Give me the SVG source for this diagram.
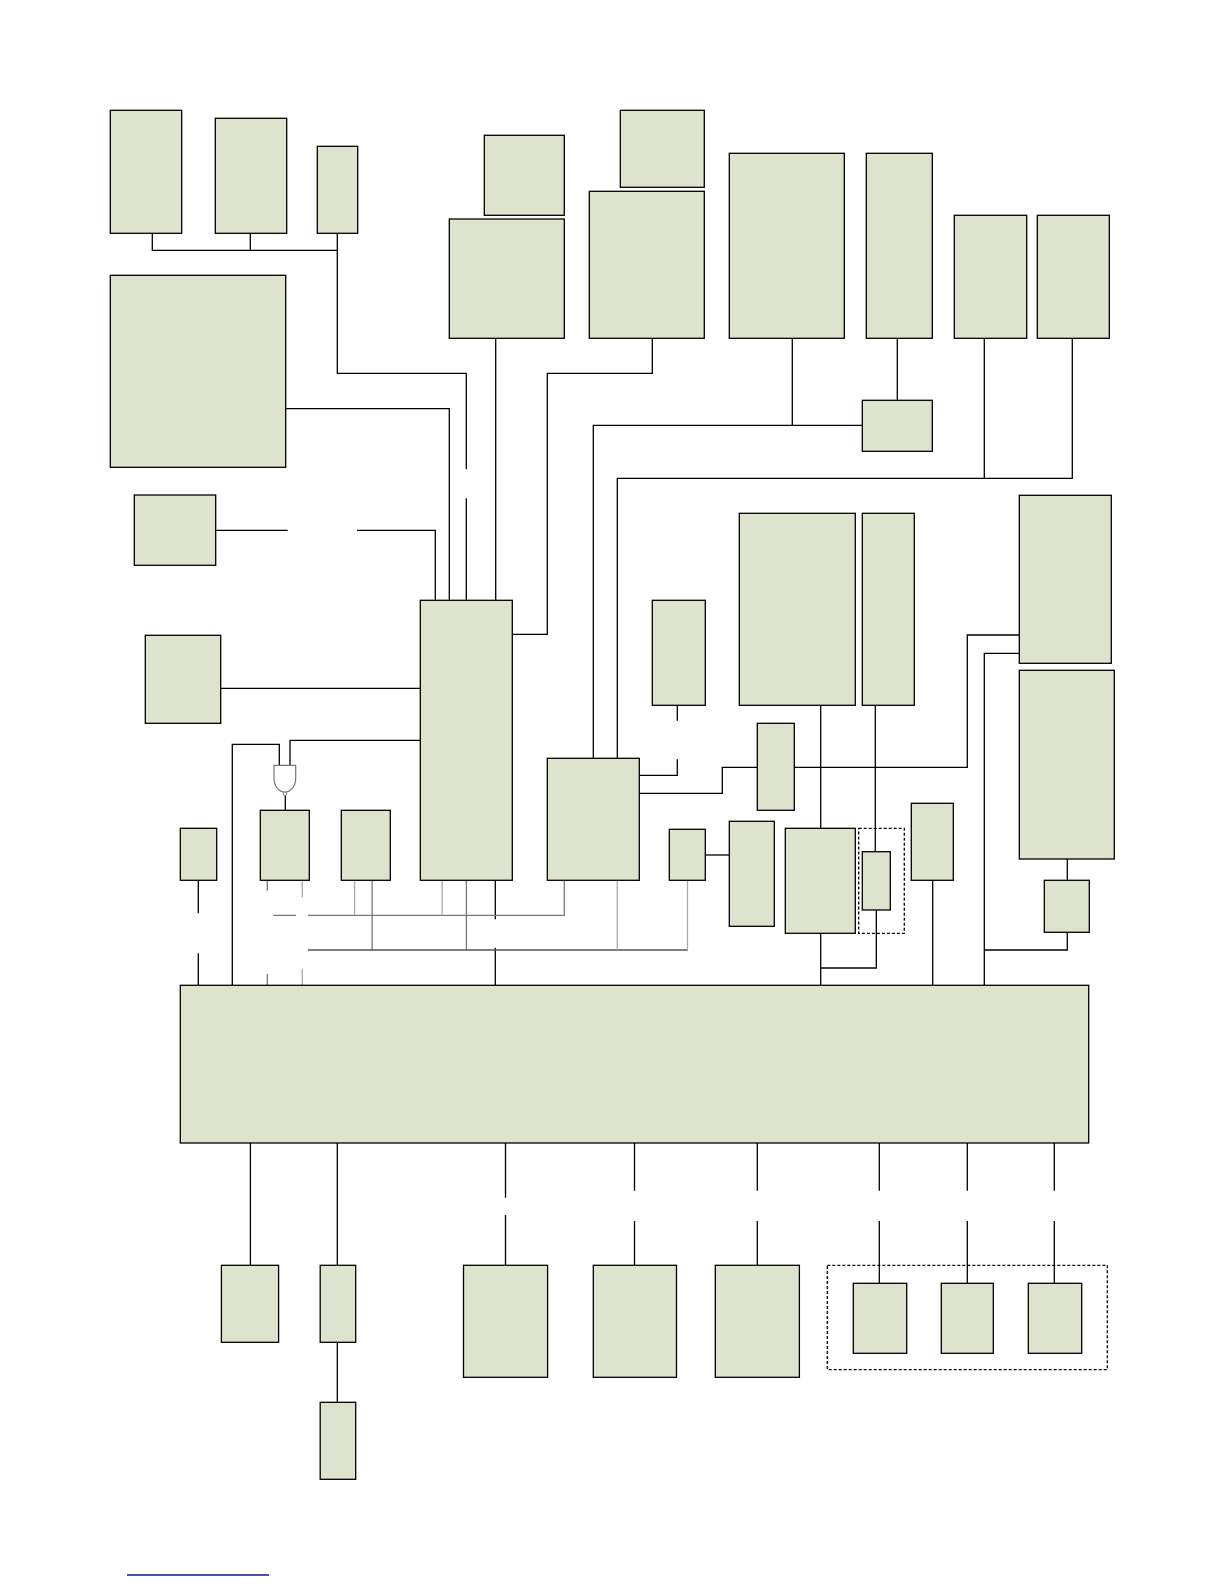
<svg xmlns="http://www.w3.org/2000/svg" width="1224" height="1584" viewBox="0 0 1224 1584">
<style>
.n{fill:#dde3cd;stroke:#000;stroke-width:1.3}
.c{fill:none;stroke:#000;stroke-width:1.3}
.g1{fill:none;stroke:#aaa;stroke-width:1.3}
.g2{fill:none;stroke:#777;stroke-width:1.3}
.g3{fill:none;stroke:#555;stroke-width:1.3}
.d{fill:none;stroke:#000;stroke-width:1.3;stroke-dasharray:3,2}
</style>
<rect width="1224" height="1584" fill="#fff"/>
<g id="connectors">
<path class="c" d="M152.3,233.3V250.3H337.3V233.3M250.3,233.3V250.3M337.3,250.3V373.3H466.3V469.3M466.3,498.3V600.3"/>
<path class="c" d="M285.7,408.7H449.3V600.3"/>
<path class="c" d="M215.7,530.3H287.7M357,530.3H435.3V600.3"/>
<path class="c" d="M495.7,338.3V600.3"/>
<path class="c" d="M652.3,338.3V373.3H547.3V634.3H512.3"/>
<path class="c" d="M792.3,338.3V425.3M593.3,758.3V425.3H862.3"/>
<path class="c" d="M897.3,338.3V400.3"/>
<path class="c" d="M984.3,338.3V478.3M1072.3,338.3V478.3H617.3V758.3"/>
<path class="c" d="M220.7,688.3H420.3"/>
<path class="c" d="M232.3,985.3V744.3H279.3V765.3M420.3,740.3H290V765.3"/>
<path class="c" d="M285.3,796V810.3"/>
<path class="c" d="M198.3,880.3V913.3M198.3,953.3V985.3"/>
<path class="c" d="M495.3,880.3V919.3M495.3,947.7V985.3"/>
<path class="g2" d="M267.3,880.3V890.7M267.3,974V985.3"/>
<path class="g1" d="M302.3,880.3V897.3M302.3,969V985.3"/>
<path class="g2" d="M273.3,915.3H296M308,915.3H564.3V880.3"/>
<path class="g1" d="M354.6,880.3V915.3M442.1,880.3V915.3"/>
<path class="g2" d="M372.1,880.3V950M466.4,880.3V950"/>
<path class="g3" d="M308,950H687.9"/>
<path class="g1" d="M617.3,880.3V950M687.5,880.3V950"/>
<path class="c" d="M677.3,705.3V720.7M677.3,759.3V775.3H639.3"/>
<path class="c" d="M639.3,793.3H722.3V767.3H757.3"/>
<path class="c" d="M794.3,767.3H967.3V635H1019.3"/>
<path class="c" d="M1019.3,653.3H984.3V985.3"/>
<path class="c" d="M1067.3,859V880.3M1067.3,932.3V950H984.3"/>
<path class="c" d="M820.7,705.3V828.3M875.3,705.3V851.7"/>
<path class="c" d="M705.3,855H729.3"/>
<path class="c" d="M820.7,933.3V985.3M876.3,910V968H820.7"/>
<path class="c" d="M932.7,880.3V985.3"/>
<path class="c" d="M250.4,1143V1265.3M337.3,1143V1265.3M337.3,1342.3V1402.3"/>
<path class="c" d="M505.5,1143V1197.7M505.5,1215V1265.3"/>
<path class="c" d="M634.5,1143V1190.7M634.5,1221V1265.3"/>
<path class="c" d="M757.3,1143V1190.7M757.3,1221V1265.3"/>
<path class="c" d="M879.3,1143V1190.7M879.3,1221V1283.3"/>
<path class="c" d="M967.3,1143V1190.7M967.3,1221V1283.3"/>
<path class="c" d="M1054.3,1143V1190.7M1054.3,1221V1283.3"/>
</g>
<g id="gate">
<path d="M274,765.3V778.5A10.85,13.5 0 0 0 295.7,778.5V765.3Z" fill="#fff" stroke="#777" stroke-width="1.2"/>
<circle cx="284.9" cy="793.8" r="1.8" fill="#fff" stroke="#777" stroke-width="1"/>
</g>
<g id="nA"><rect class="n" x="110.3" y="110.3" width="71.4" height="123"/></g>
<g id="nB"><rect class="n" x="215.3" y="118.3" width="71.4" height="115"/></g>
<g id="nC"><rect class="n" x="317.3" y="146.3" width="40.4" height="87"/></g>
<g id="nD"><rect class="n" x="110.3" y="275.3" width="175.4" height="192"/></g>
<g id="nE"><rect class="n" x="484.3" y="135.3" width="80" height="80"/></g>
<g id="nF"><rect class="n" x="449.3" y="219" width="115" height="119.3"/></g>
<g id="nG"><rect class="n" x="620.3" y="110.3" width="84" height="77"/></g>
<g id="nH"><rect class="n" x="589.3" y="191.3" width="115" height="147"/></g>
<g id="nI"><rect class="n" x="729.3" y="153.3" width="115" height="185"/></g>
<g id="nJ"><rect class="n" x="866.3" y="153.3" width="66" height="185"/></g>
<g id="nK"><rect class="n" x="954.3" y="215.3" width="72.4" height="123"/></g>
<g id="nL"><rect class="n" x="1037.3" y="215.3" width="72" height="123"/></g>
<g id="nM"><rect class="n" x="862.3" y="400.3" width="70" height="51"/></g>
<g id="nN"><rect class="n" x="134.3" y="495" width="81.4" height="70.3"/></g>
<g id="nO"><rect class="n" x="145.3" y="635.3" width="75.4" height="88"/></g>
<g id="nP"><rect class="n" x="420.3" y="600.3" width="92" height="280"/></g>
<g id="nR"><rect class="n" x="652.3" y="600.3" width="53" height="105"/></g>
<g id="nAA"><rect class="n" x="739.3" y="513.3" width="116" height="192"/></g>
<g id="nAB"><rect class="n" x="862.3" y="513.3" width="52" height="192"/></g>
<g id="nZ"><rect class="n" x="1019.3" y="495.3" width="92" height="168"/></g>
<g id="nAG"><rect class="n" x="1019.3" y="670.3" width="95" height="188.7"/></g>
<g id="nAH"><rect class="n" x="1044.3" y="880.3" width="45" height="52"/></g>
<g id="nQ"><rect class="n" x="547.3" y="758.3" width="92" height="122"/></g>
<g id="nY"><rect class="n" x="757.3" y="723.3" width="37" height="87"/></g>
<g id="nT"><rect class="n" x="180.3" y="828.3" width="36.4" height="52"/></g>
<g id="nS"><rect class="n" x="260.3" y="810.3" width="49" height="70"/></g>
<g id="nU"><rect class="n" x="341.3" y="810.3" width="49" height="70"/></g>
<g id="nX"><rect class="n" x="669.3" y="829.3" width="36" height="51"/></g>
<g id="nAE"><rect class="n" x="729.3" y="821.3" width="45" height="105"/></g>
<g id="nAC"><rect class="n" x="785.3" y="828.3" width="70" height="105"/></g>
<g id="grpAD"><rect class="d" x="858.7" y="828.3" width="45.6" height="105"/></g>
<g id="nAD"><rect class="n" x="862.3" y="851.7" width="28" height="58.3"/></g>
<g id="nAF"><rect class="n" x="911.3" y="803.3" width="42" height="77"/></g>
<g id="nW"><rect class="n" x="180.3" y="985.3" width="908.4" height="157.7"/></g>
<g id="nBA"><rect class="n" x="221.4" y="1265.3" width="57.2" height="77"/></g>
<g id="nBB"><rect class="n" x="320.2" y="1265.3" width="35.5" height="77"/></g>
<g id="nBC"><rect class="n" x="320.2" y="1402.3" width="35.5" height="77"/></g>
<g id="nBD"><rect class="n" x="463.5" y="1265.3" width="84.1" height="112"/></g>
<g id="nBE"><rect class="n" x="593.3" y="1265.3" width="83.2" height="112"/></g>
<g id="nBF"><rect class="n" x="715.3" y="1265.3" width="84.1" height="112"/></g>
<g id="grpBG"><rect class="d" x="827.3" y="1265.3" width="280" height="104.4"/></g>
<g id="nBG"><rect class="n" x="853.3" y="1283.3" width="53.4" height="70"/></g>
<g id="nBH"><rect class="n" x="941.3" y="1283.3" width="52" height="70"/></g>
<g id="nBI"><rect class="n" x="1028.3" y="1283.3" width="53.4" height="70"/></g>
<line x1="127" y1="1575" x2="269" y2="1575" stroke="#14148a" stroke-width="1.6"/>
</svg>
